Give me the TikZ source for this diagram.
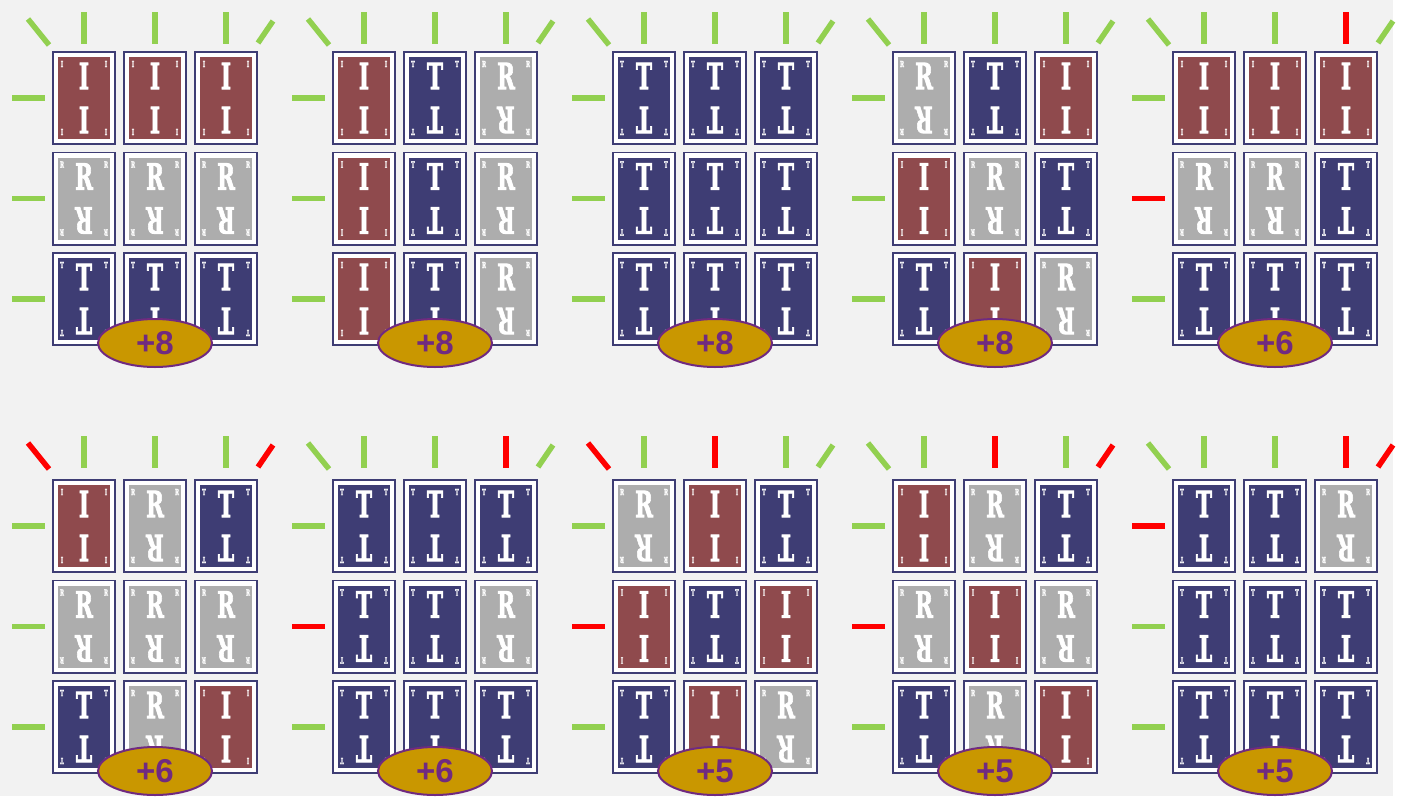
\documentclass[tikz,border=0pt]{standalone}
\usepackage{fontspec}
\newfontfamily\cardfont{DejaVu Serif}[BoldFeatures={FakeBold=2.5}]
\newfontfamily\badgefont{Liberation Sans}
\usetikzlibrary{shapes.geometric}

\definecolor{bggray}{HTML}{F2F2F2}
\definecolor{cardnavy}{HTML}{3E3D74}
\definecolor{cardbrown}{HTML}{8F4A4D}
\definecolor{cardgray}{HTML}{ADADAD}
\definecolor{tickok}{HTML}{92D050}
\definecolor{tickbad}{HTML}{FF0000}
\definecolor{badgegold}{HTML}{C99700}
\definecolor{badgepurple}{HTML}{702A80}

\tikzset{
  cardbox/.style={draw=cardnavy, line width=1.6pt, fill=white, minimum width=62.4pt, minimum height=92.4pt, inner sep=0pt},
  face I/.style={fill=cardbrown},
  face R/.style={fill=cardgray},
  face T/.style={fill=cardnavy},
  cardface/.style={face #1, minimum width=52pt, minimum height=82pt, inner sep=0pt},
  bigletter/.style={text=white, inner sep=0pt, xscale=0.6, font=\cardfont\bfseries\fontsize{36}{36}\selectfont},
  smallletter/.style={text=white, inner sep=0pt, xscale=0.6, font=\cardfont\bfseries\fontsize{8.5}{8.5}\selectfont},
  tick/.style={line width=5.5pt},
  badge/.style={ellipse, draw=badgepurple, line width=2pt, fill=badgegold, minimum width=114pt, minimum height=48pt, inner sep=0pt, text=badgepurple, font=\badgefont\bfseries\fontsize{33}{33}\selectfont}
}

% letter upright above, upside down below
\newcommand{\letterpair}[1]{\vbox{\hbox{#1}\kern 8pt\hbox{\rotatebox[origin=c]{180}{#1}}}}
% one card: name, x, y, letter
\newcommand{\drawcard}[4]{%
  \node[cardbox] (#1) at (#2,#3) {};
  \node[cardface=#4] (#1f) at (#1) {};
  \node[bigletter] (#1l) at (#1) {\letterpair{#4}};
  \node[smallletter] (#1tl) at (#2-22,#3-34) {#4};
  \node[smallletter] (#1tr) at (#2+22,#3-34) {#4};
  \node[smallletter, rotate=180] (#1bl) at (#2-22,#3+34) {#4};
  \node[smallletter, rotate=180] (#1br) at (#2+22,#3+34) {#4};
}
% a row of three cards: name, panel x, row y, letters
\newcommand{\cardrow}[6]{%
  \drawcard{#1a}{#2+84}{#3}{#4}
  \drawcard{#1b}{#2+155}{#3}{#5}
  \drawcard{#1c}{#2+226}{#3}{#6}
}
% marks above: panel x, y, diag, col1, col2, col3, diag
\newcommand{\topticks}[7]{%
  \draw[tick, #3] (#1+28,#2+19) -- (#1+49,#2+45);
  \draw[tick, #4] (#1+84,#2+12) -- (#1+84,#2+44);
  \draw[tick, #5] (#1+155,#2+12) -- (#1+155,#2+44);
  \draw[tick, #6] (#1+226,#2+12) -- (#1+226,#2+44);
  \draw[tick, #7] (#1+258,#2+43) -- (#1+273,#2+21);
}
% marks on the left: panel x, y, row1, row2, row3
\newcommand{\sideticks}[5]{%
  \draw[tick, #3] (#1+12,#2+98) -- (#1+45,#2+98);
  \draw[tick, #4] (#1+12,#2+198.5) -- (#1+45,#2+198.5);
  \draw[tick, #5] (#1+12,#2+299) -- (#1+45,#2+299);
}

\begin{document}
\begin{tikzpicture}[x=1pt, y=-1pt]
\def \colone {0}
\def \coltwo {280}
\def \colthree {560}
\def \colfour {840}
\def \colfive {1120}
\def \rowone {0}
\def \rowtwo {428}

\useasboundingbox (0,0) rectangle (1405,796);
\fill[bggray] (0,0) rectangle (1393,796);

%Panel 1
\cardrow{pa1}{\colone}{\rowone+98}{I}{I}{I}
\cardrow{pa2}{\colone}{\rowone+198.5}{R}{R}{R}
\cardrow{pa3}{\colone}{\rowone+299}{T}{T}{T}
\topticks{\colone}{\rowone}{tickok}{tickok}{tickok}{tickok}{tickok}
\sideticks{\colone}{\rowone}{tickok}{tickok}{tickok}
\node[badge] (pas) at (\colone+155,\rowone+343) {+8};

%Panel 2
\cardrow{pb1}{\coltwo}{\rowone+98}{I}{T}{R}
\cardrow{pb2}{\coltwo}{\rowone+198.5}{I}{T}{R}
\cardrow{pb3}{\coltwo}{\rowone+299}{I}{T}{R}
\topticks{\coltwo}{\rowone}{tickok}{tickok}{tickok}{tickok}{tickok}
\sideticks{\coltwo}{\rowone}{tickok}{tickok}{tickok}
\node[badge] (pbs) at (\coltwo+155,\rowone+343) {+8};

%Panel 3
\cardrow{pc1}{\colthree}{\rowone+98}{T}{T}{T}
\cardrow{pc2}{\colthree}{\rowone+198.5}{T}{T}{T}
\cardrow{pc3}{\colthree}{\rowone+299}{T}{T}{T}
\topticks{\colthree}{\rowone}{tickok}{tickok}{tickok}{tickok}{tickok}
\sideticks{\colthree}{\rowone}{tickok}{tickok}{tickok}
\node[badge] (pcs) at (\colthree+155,\rowone+343) {+8};

%Panel 4
\cardrow{pd1}{\colfour}{\rowone+98}{R}{T}{I}
\cardrow{pd2}{\colfour}{\rowone+198.5}{I}{R}{T}
\cardrow{pd3}{\colfour}{\rowone+299}{T}{I}{R}
\topticks{\colfour}{\rowone}{tickok}{tickok}{tickok}{tickok}{tickok}
\sideticks{\colfour}{\rowone}{tickok}{tickok}{tickok}
\node[badge] (pds) at (\colfour+155,\rowone+343) {+8};

%Panel 5
\cardrow{pe1}{\colfive}{\rowone+98}{I}{I}{I}
\cardrow{pe2}{\colfive}{\rowone+198.5}{R}{R}{T}
\cardrow{pe3}{\colfive}{\rowone+299}{T}{T}{T}
\topticks{\colfive}{\rowone}{tickok}{tickok}{tickok}{tickbad}{tickok}
\sideticks{\colfive}{\rowone}{tickok}{tickbad}{tickok}
\node[badge] (pes) at (\colfive+155,\rowone+343) {+6};

%Panel 6
\cardrow{pf1}{\colone}{\rowtwo+98}{I}{R}{T}
\cardrow{pf2}{\colone}{\rowtwo+198.5}{R}{R}{R}
\cardrow{pf3}{\colone}{\rowtwo+299}{T}{R}{I}
\topticks{\colone}{\rowtwo-4}{tickbad}{tickok}{tickok}{tickok}{tickbad}
\sideticks{\colone}{\rowtwo}{tickok}{tickok}{tickok}
\node[badge] (pfs) at (\colone+155,\rowtwo+343) {+6};

%Panel 7
\cardrow{pg1}{\coltwo}{\rowtwo+98}{T}{T}{T}
\cardrow{pg2}{\coltwo}{\rowtwo+198.5}{T}{T}{R}
\cardrow{pg3}{\coltwo}{\rowtwo+299}{T}{T}{T}
\topticks{\coltwo}{\rowtwo-4}{tickok}{tickok}{tickok}{tickbad}{tickok}
\sideticks{\coltwo}{\rowtwo}{tickok}{tickbad}{tickok}
\node[badge] (pgs) at (\coltwo+155,\rowtwo+343) {+6};

%Panel 8
\cardrow{ph1}{\colthree}{\rowtwo+98}{R}{I}{T}
\cardrow{ph2}{\colthree}{\rowtwo+198.5}{I}{T}{I}
\cardrow{ph3}{\colthree}{\rowtwo+299}{T}{I}{R}
\topticks{\colthree}{\rowtwo-4}{tickbad}{tickok}{tickbad}{tickok}{tickok}
\sideticks{\colthree}{\rowtwo}{tickok}{tickbad}{tickok}
\node[badge] (phs) at (\colthree+155,\rowtwo+343) {+5};

%Panel 9
\cardrow{pi1}{\colfour}{\rowtwo+98}{I}{R}{T}
\cardrow{pi2}{\colfour}{\rowtwo+198.5}{R}{I}{R}
\cardrow{pi3}{\colfour}{\rowtwo+299}{T}{R}{I}
\topticks{\colfour}{\rowtwo-4}{tickok}{tickok}{tickbad}{tickok}{tickbad}
\sideticks{\colfour}{\rowtwo}{tickok}{tickbad}{tickok}
\node[badge] (pis) at (\colfour+155,\rowtwo+343) {+5};

%Panel 10
\cardrow{pj1}{\colfive}{\rowtwo+98}{T}{T}{R}
\cardrow{pj2}{\colfive}{\rowtwo+198.5}{T}{T}{T}
\cardrow{pj3}{\colfive}{\rowtwo+299}{T}{T}{T}
\topticks{\colfive}{\rowtwo-4}{tickok}{tickok}{tickok}{tickbad}{tickbad}
\sideticks{\colfive}{\rowtwo}{tickbad}{tickok}{tickok}
\node[badge] (pjs) at (\colfive+155,\rowtwo+343) {+5};

\end{tikzpicture}
\end{document}
